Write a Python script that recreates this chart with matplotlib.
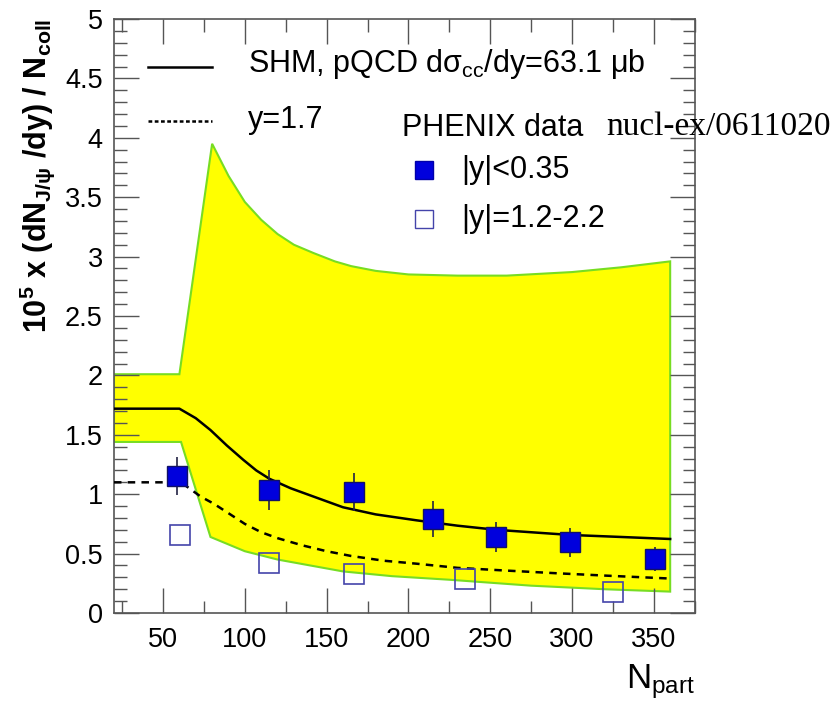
import numpy as np
import matplotlib
matplotlib.use("Agg")
import matplotlib.pyplot as plt
from matplotlib.ticker import MultipleLocator, FuncFormatter

plt.rcParams['font.family'] = ['Liberation Sans', 'DejaVu Sans']
plt.rcParams['mathtext.fontset'] = 'custom'
plt.rcParams['mathtext.rm'] = 'Liberation Sans'
plt.rcParams['mathtext.it'] = 'Liberation Sans'
plt.rcParams['mathtext.bf'] = 'Liberation Sans:bold'

# band (SHM uncertainty)
band_up_x = [20, 60, 80, 90, 100, 110, 120, 130, 142, 155, 165, 180, 200, 230, 260, 300, 330, 360]
band_up_y = [2.01, 2.01, 3.95, 3.68, 3.46, 3.31, 3.19, 3.10, 3.03, 2.96, 2.92, 2.88, 2.85, 2.84, 2.84, 2.87, 2.91, 2.96]
band_lo_x = [20, 61, 79, 100, 120, 140, 160, 190, 225, 275, 320, 360]
band_lo_y = [1.44, 1.44, 0.64, 0.52, 0.45, 0.40, 0.35, 0.31, 0.28, 0.23, 0.20, 0.18]

# SHM central, y=0
shm_x = [20, 60, 70, 79, 89, 99, 107, 115, 128, 140, 160, 180, 205, 230, 254, 280, 299, 330, 360]
shm_y = [1.72, 1.72, 1.64, 1.54, 1.41, 1.29, 1.20, 1.13, 1.05, 0.99, 0.89, 0.83, 0.78, 0.735, 0.70, 0.675, 0.657, 0.64, 0.623]

# SHM, y=1.7
fwd_x = [20, 61, 66, 73, 81, 90, 100, 110, 120, 135, 150, 165, 185, 205, 230, 256, 290, 320, 360]
fwd_y = [1.10, 1.10, 1.05, 0.98, 0.92, 0.84, 0.75, 0.68, 0.63, 0.57, 0.52, 0.48, 0.44, 0.415, 0.38, 0.36, 0.335, 0.315, 0.29]

# PHENIX |y|<0.35
mid_npart = [58.5, 114.5, 166.5, 215.3, 253.7, 298.7, 351]
mid_val = [1.153, 1.035, 1.02, 0.79, 0.64, 0.595, 0.455]
mid_err = [0.16, 0.17, 0.16, 0.15, 0.13, 0.12, 0.10]

# PHENIX |y|=1.2-2.2
fwd_npart = [60.6, 114.5, 166.5, 234.6, 325]
fwd_val = [0.657, 0.418, 0.328, 0.286, 0.174]

fig = plt.figure(figsize=(8.38, 7.05), dpi=100)
ax = fig.add_axes([0.136, 0.1305, 0.693, 0.8425])

px = band_up_x + band_lo_x[::-1]
py = band_up_y + band_lo_y[::-1]
ax.fill(px, py, facecolor='#ffff00', edgecolor='#77dd22', lw=1.5, zorder=1)

ax.plot(shm_x, shm_y, color='black', lw=1.8, zorder=3)
ax.plot(fwd_x, fwd_y, color='black', lw=1.8, ls=(0, (3, 2.5)), zorder=3)

ax.errorbar(mid_npart, mid_val, yerr=mid_err, fmt='s', ms=14, mfc='#0000dd',
            mec='#111166', mew=1, ecolor='#222244', elinewidth=1.2, capsize=0, zorder=4)
ax.plot(fwd_npart, fwd_val, 's', ms=14, mfc='none', mec='#4444aa', mew=1.2, zorder=4)

ax.set_xlim(20, 375)
ax.set_ylim(0, 5)
ax.xaxis.set_major_locator(MultipleLocator(50))
ax.xaxis.set_minor_locator(MultipleLocator(25))
ax.yaxis.set_major_locator(MultipleLocator(0.5))
ax.yaxis.set_minor_locator(MultipleLocator(0.1))
ax.tick_params(which='both', direction='in', top=True, right=True, labelsize=19.5,
               colors='#555555', labelcolor='black')
ax.tick_params(which='major', length=18, width=1)
ax.tick_params(which='minor', length=9, width=1)
ax.tick_params(axis='x', pad=10)
ax.tick_params(axis='y', pad=8)
ax.yaxis.set_major_formatter(FuncFormatter(lambda v, p: '%g' % v))
for s in ax.spines.values():
    s.set_color('#555555')
    s.set_linewidth(1.2)

ax.set_ylabel(r'$\mathbf{10^5}$ x (dN$_{\mathbf{J/\psi}}$ /dy) / N$_{\mathbf{coll}}$',
              fontsize=22, fontweight='bold', labelpad=6, loc='top')
fig.text(0.829, 0.005, r'N$_{\rm part}$', fontsize=25, ha='right', va='bottom')

# legend drawn as text, ROOT style
ax.plot([41, 80], [4.6, 4.6], color='black', lw=1.8, clip_on=False)
ax.plot([41, 80], [4.14, 4.14], color='black', lw=1.8, ls=(0, (1.5, 1)), clip_on=False)
ax.text(102, 4.62, r'SHM, pQCD d$\sigma_{\rm cc}$/dy=63.1 $\mu$b', fontsize=22, va='center')
ax.text(102, 4.15, 'y=1.7', fontsize=22, va='center')
ax.text(196, 4.08, 'PHENIX data', fontsize=22, va='center')
ax.text(321, 4.09, 'nucl-ex/0611020', fontsize=24, va='center', family='Liberation Serif', clip_on=False)
ax.plot([209.5], [3.73], 's', ms=13, mfc='#0000dd', mec='#0000aa')
ax.plot([209.5], [3.32], 's', ms=13, mfc='none', mec='#4444aa', mew=1)
ax.text(232.5, 3.73, '|y|<0.35', fontsize=22, va='center')
ax.text(232.5, 3.32, '|y|=1.2-2.2', fontsize=22, va='center')

fig.savefig('out.png', dpi=100)
